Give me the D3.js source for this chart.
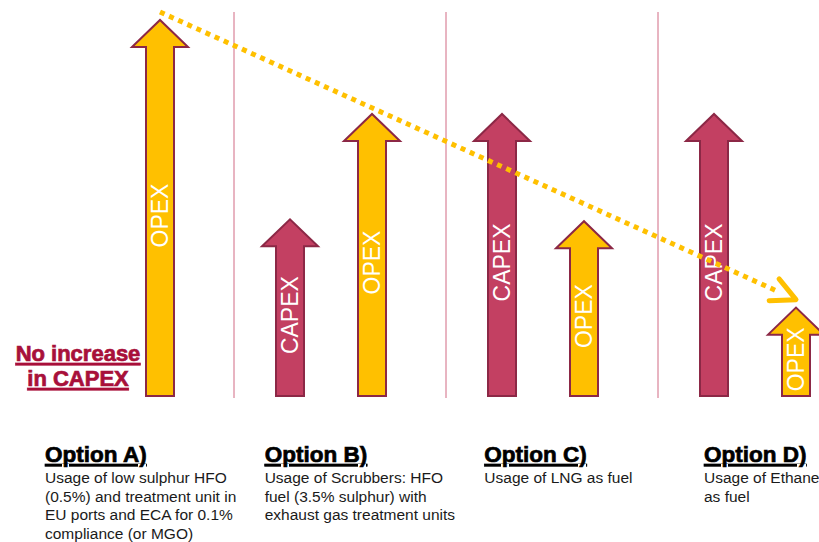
<!DOCTYPE html>
<html>
<head>
<meta charset="utf-8">
<script src="https://cdn.jsdelivr.net/npm/d3@7"></script>
<style>
  body { margin: 0; background: #fff; }
  svg { display: block; font-family: "Liberation Sans", Arial, sans-serif; }
</style>
</head>
<body>
<div id="chart"></div>
<script>
// options and the relative size of their cost arrows (0-100)
var options = ["Option A)", "Option B)", "Option C)", "Option D)"];
var costTypes = ["CAPEX", "OPEX"];
var capexValues = [null, 47, 75, 75];
var opexValues = [100, 75, 46.5, 23.5];
var descriptions = [
  ["Usage of low sulphur HFO", "(0.5%) and treatment unit in", "EU ports and ECA for 0.1%", "compliance (or MGO)"],
  ["Usage of Scrubbers: HFO", "fuel (3.5% sulphur) with", "exhaust gas treatment units"],
  ["Usage of LNG as fuel"],
  ["Usage of Ethane", "as fuel"]
];
var noCapexNote = ["No increase", "in CAPEX"];

var width = 819,
  height = 542,
  baseY = 396;

var colors = { CAPEX: "#C34062", OPEX: "#FFC000" };

var arrows = [];
options.forEach(function (opt, i) {
  if (capexValues[i] != null) arrows.push({ option: opt, type: "CAPEX", value: capexValues[i] });
  if (opexValues[i] != null) arrows.push({ option: opt, type: "OPEX", value: opexValues[i] });
});

var svg = d3
  .select("#chart")
  .append("svg")
  .attr("width", width)
  .attr("height", height);

// group bands and position of each cost type inside a band
var x = d3.scaleBand().domain(options).range([24, 872]);
var xInner = d3.scalePoint().domain(costTypes).range([54, 136]);
var y = d3.scaleLinear().domain([0, 100]).range([baseY, 20]);
var titleX = d3.scalePoint().domain(options).range([45, 704]);

function cx(d) {
  return x(d.option) + xInner(d.type);
}

// separators between the options
svg
  .selectAll("line.sep")
  .data(options.slice(1))
  .enter()
  .append("line")
  .attr("class", "sep")
  .attr("x1", function (d) { return x(d) - 2; })
  .attr("x2", function (d) { return x(d) - 2; })
  .attr("y1", 12)
  .attr("y2", baseY + 2)
  .attr("stroke", "#C9506E")
  .attr("stroke-opacity", 0.85)
  .attr("stroke-width", 1);

var shaft = 14,
  head = 28,
  headLen = 27;

function arrowPath(d) {
  var c = cx(d),
    tip = y(d.value);
  return d3.line()([
    [c - shaft, baseY],
    [c - shaft, tip + headLen],
    [c - head, tip + headLen],
    [c, tip],
    [c + head, tip + headLen],
    [c + shaft, tip + headLen],
    [c + shaft, baseY]
  ]) + "Z";
}

svg
  .selectAll("path.arrow")
  .data(arrows)
  .enter()
  .append("path")
  .attr("class", "arrow")
  .attr("d", arrowPath)
  .attr("fill", function (d) { return colors[d.type]; })
  .attr("stroke", "#8C2846")
  .attr("stroke-width", 2)
  .attr("stroke-linejoin", "miter");

// labels along the shafts
svg
  .selectAll("text.arrowLabel")
  .data(arrows)
  .enter()
  .append("text")
  .attr("class", "arrowLabel")
  .attr("transform", function (d) {
    var mid = (y(d.value) + headLen + baseY) / 2 - 6;
    return "translate(" + cx(d) + "," + mid + ") rotate(-90)";
  })
  .attr("text-anchor", "middle")
  .attr("dy", "0.36em")
  .attr("fill", "#fff")
  .attr("font-size", 23)
  .text(function (d) { return d.type; });

// note where option A has no capex arrow
var noteX = x(options[0]) + xInner("CAPEX");
svg
  .append("text")
  .attr("text-anchor", "middle")
  .attr("fill", "#A8103A")
  .attr("stroke", "#A8103A")
  .attr("stroke-width", 0.7)
  .attr("font-weight", "bold")
  .attr("font-size", 22)
  .attr("text-decoration", "underline")
  .selectAll("tspan")
  .data(noCapexNote)
  .enter()
  .append("tspan")
  .attr("x", noteX)
  .attr("y", function (d, i) { return 361 + i * 25; })
  .text(function (d) { return d; });

// option titles + descriptions
var blocks = svg
  .selectAll("g.desc")
  .data(options)
  .enter()
  .append("g")
  .attr("class", "desc")
  .attr("transform", function (d) { return "translate(" + titleX(d) + ",0)"; });

blocks
  .append("text")
  .attr("y", 462)
  .attr("font-size", 22.5)
  .attr("font-weight", "bold")
  .attr("text-decoration", "underline")
  .attr("fill", "#000")
  .attr("stroke", "#000")
  .attr("stroke-width", 0.7)
  .text(function (d) { return d; });

blocks
  .append("text")
  .attr("font-size", 15.5)
  .attr("fill", "#1a1a1a")
  .selectAll("tspan")
  .data(function (d, i) { return descriptions[i]; })
  .enter()
  .append("tspan")
  .attr("x", 0)
  .attr("y", function (d, i) { return 483 + i * 18.5; })
  .text(function (d) { return d; });

// dotted trend from option A to option D opex
var first = arrows[0],
  last = arrows[arrows.length - 1];
var p0 = [cx(first), y(first.value) - 8],
  p1 = [cx(last), y(last.value) - 8];
var ang = Math.atan2(p1[1] - p0[1], p1[0] - p0[0]);
var lineEnd = [p1[0] - 20 * Math.cos(ang), p1[1] - 20 * Math.sin(ang)];

svg
  .append("path")
  .attr("d", d3.line()([p0, lineEnd]))
  .attr("stroke", "#FFC000")
  .attr("stroke-width", 5)
  .attr("stroke-dasharray", "5,5")
  .attr("fill", "none");

svg
  .append("path")
  .attr("d", "M-24,-12L0,0L-24,12")
  .attr("transform", "translate(" + p1[0] + "," + p1[1] + ") rotate(" + (ang * 180) / Math.PI + ")")
  .attr("stroke", "#FFC000")
  .attr("stroke-width", 5)
  .attr("stroke-linecap", "round")
  .attr("stroke-linejoin", "round")
  .attr("fill", "none");
</script>
</body>
</html>
